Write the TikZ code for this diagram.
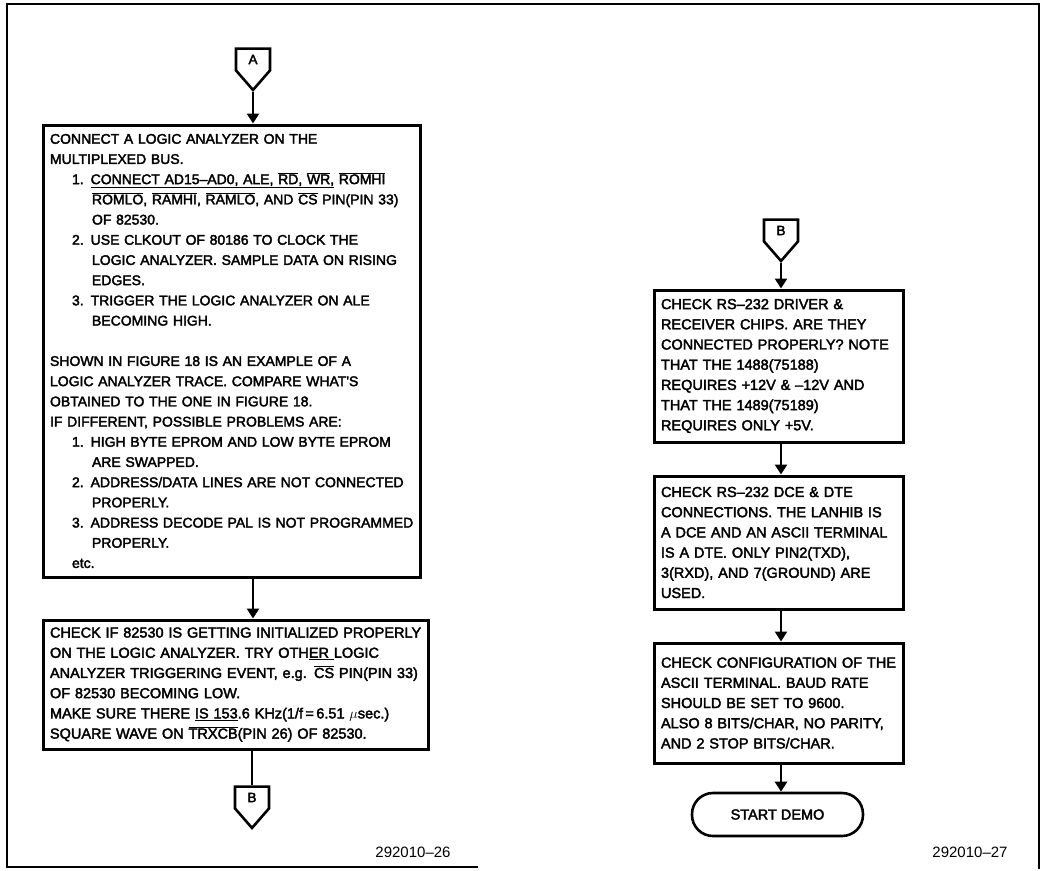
\documentclass[tikz,border=0pt]{standalone}
\usepackage{fontspec}
\setmainfont{Liberation Sans}
\newfontfamily\boxfont[FakeBold=2.5]{Liberation Sans}
\usetikzlibrary{arrows.meta,shapes.symbols,positioning}

\newcommand{\ovl}[1]{$\overline{\mbox{#1}}$}

\tikzset{
  stepbox/.style={draw, line width=3pt, align=left, inner xsep=7pt, inner ysep=4pt,
    font=\boxfont\fontsize{14.5}{20.2}\selectfont},
  conn/.style={draw, line width=2.6pt, signal, signal to=south, signal pointer angle=82,
    minimum width=34pt, minimum height=27pt, inner sep=0pt,
    font=\boxfont\fontsize{13.5}{15}\selectfont},
  term/.style={draw, line width=2.6pt, rounded corners=21pt, minimum width=171pt,
    minimum height=43pt, font=\boxfont\fontsize{14.5}{20.2}\selectfont},
  flow/.style={line width=2.6pt, -{Triangle[width=12pt,length=10pt]}},
  plain/.style={line width=2.6pt},
  fignum/.style={font=\fontsize{15}{18}\selectfont}
}

\begin{document}
\begin{tikzpicture}[x=1pt,y=-1pt]
\useasboundingbox (0,0) rectangle (1043,870);

% frame
\draw[line width=2pt] (478,867) -- (7,867) -- (7,4) -- (1039,4) -- (1039,869);

% left column
\node[conn] (A) at (253,59.5) {A};

\node[stepbox, font=\boxfont\fontsize{14}{20.2}\selectfont,
      text width=363pt, minimum height=452pt] (bus) at (231.5,351) {%
CONNECT A LOGIC ANALYZER ON THE\\
MULTIPLEXED BUS.\\
\hspace*{22pt}\mbox{1. \underline{CONNECT AD15–AD0, ALE, \ovl{RD}, \ovl{WR},} \ovl{ROMHI}}\\
\hspace*{42pt}\mbox{\ovl{ROMLO}, \ovl{RAMHI}, \ovl{RAMLO}, AND \ovl{CS} PIN(PIN 33)}\\
\hspace*{42pt}OF 82530.\\
\hspace*{22pt}2. USE CLKOUT OF 80186 TO CLOCK THE\\
\hspace*{42pt}\mbox{LOGIC ANALYZER. SAMPLE DATA ON RISING}\\
\hspace*{42pt}EDGES.\\
\hspace*{22pt}3. TRIGGER THE LOGIC ANALYZER ON ALE\\
\hspace*{42pt}BECOMING HIGH.\\[20.2pt]
SHOWN IN FIGURE 18 IS AN EXAMPLE OF A\\
LOGIC ANALYZER TRACE. COMPARE WHAT'S\\
OBTAINED TO THE ONE IN FIGURE 18.\\
IF DIFFERENT, POSSIBLE PROBLEMS ARE:\\
\hspace*{22pt}\mbox{1. HIGH BYTE EPROM AND LOW BYTE EPROM}\\
\hspace*{42pt}ARE SWAPPED.\\
\hspace*{22pt}\mbox{2. ADDRESS/DATA LINES ARE NOT CONNECTED}\\
\hspace*{42pt}PROPERLY.\\
\hspace*{22pt}\mbox{3. ADDRESS DECODE PAL IS NOT PROGRAMMED}\\
\hspace*{42pt}PROPERLY.\\
\hspace*{22pt}etc.};

\node[stepbox, text width=371pt, minimum height=129pt] (init) at (235.5,684.5) {%
\mbox{CHECK IF 82530 IS GETTING INITIALIZED PROPERLY}\\
ON THE LOGIC ANALYZER. TRY OTH\underline{ER }LOGIC\\
\mbox{ANALYZER TRIGGERING EVENT, e.g. \ovl{CS} PIN(PIN 33)}\\
OF 82530 BECOMING LOW.\\
\mbox{MAKE SURE THERE \underline{IS 153}.6 KHz(1/f\,=\,6.51 $\mu$sec.)}\\
SQUARE WAVE ON \ovl{TRXCB}(PIN 26) OF 82530.};

\node[conn] (Bout) at (252,797.5) {B};

\draw[flow] (A.south) -- (A |- bus.north);
\draw[flow] (A |- bus.south) -- (A |- init.north);
\draw[plain] (Bout |- init.south) -- (Bout.north);

% right column
\node[conn] (Bin) at (781,230.5) {B};

\node[stepbox, text width=235pt, minimum height=152pt] (driver) at (778.5,366) {%
CHECK RS–232 DRIVER \&\\
RECEIVER CHIPS. ARE THEY\\
\mbox{CONNECTED PROPERLY? NOTE}\\
THAT THE 1488(75188)\\
\mbox{REQUIRES +12V \& –12V AND}\\
THAT THE 1489(75189)\\
REQUIRES ONLY +5V.};

\node[stepbox, text width=235pt, minimum height=133pt] (dce) at (778.5,542.5) {%
CHECK RS–232 DCE \& DTE\\
\mbox{CONNECTIONS. THE LANHIB IS}\\
\mbox{A DCE AND AN ASCII TERMINAL}\\
IS A DTE. ONLY PIN2(TXD),\\
3(RXD), AND 7(GROUND) ARE\\
USED.};

\node[stepbox, text width=235pt, minimum height=120pt] (config) at (778.5,703) {%
\mbox{CHECK CONFIGURATION OF THE}\\
ASCII TERMINAL. BAUD RATE\\
SHOULD BE SET TO 9600.\\
\mbox{ALSO 8 BITS/CHAR, NO PARITY,}\\
AND 2 STOP BITS/CHAR.};

\node[term] (demo) at (777.5,814.5) {START DEMO};

\draw[flow] (Bin.south) -- (Bin |- driver.north);
\draw[flow] (Bin |- driver.south) -- (Bin |- dce.north);
\draw[flow] (Bin |- dce.south) -- (Bin |- config.north);
\draw[flow] (Bin |- config.south) -- (Bin |- demo.north);

% figure numbers
\node[fignum] (num26) at (413,852) {292010–26};
\node[fignum] (num27) at (970,852) {292010–27};

\end{tikzpicture}
\end{document}
